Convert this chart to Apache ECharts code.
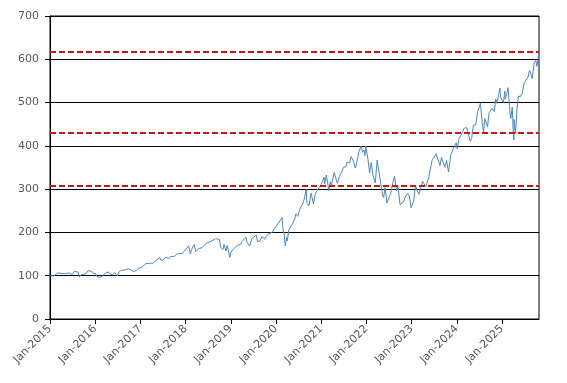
<!DOCTYPE html>
<html>
<head>
<meta charset="utf-8">
<script src="https://cdn.jsdelivr.net/npm/echarts@6/dist/echarts.min.js"></script>
<style>
  html, body { margin: 0; padding: 0; background: #fff; }
  #chart { width: 567px; height: 383px; }
</style>
</head>
<body>
<div id="chart"></div>
<script>
// ---- data ----
const dates = [
  '2015-01-02','2015-01-15','2015-02-02','2015-02-17','2015-03-02','2015-03-11','2015-03-20','2015-04-01','2015-04-15','2015-04-27',
  '2015-05-06','2015-05-20','2015-06-01','2015-06-15','2015-06-29','2015-07-20','2015-08-03','2015-08-17','2015-08-25','2015-09-01',
  '2015-09-16','2015-09-28','2015-10-15','2015-11-02','2015-11-13','2015-12-01','2015-12-14','2015-12-29',
  '2016-01-04','2016-01-15','2016-01-29','2016-02-11','2016-03-01','2016-03-15','2016-04-01','2016-04-19','2016-05-02','2016-05-19',
  '2016-06-08','2016-06-27','2016-07-15','2016-08-01','2016-08-15','2016-09-01','2016-09-09','2016-09-22','2016-10-14','2016-11-04',
  '2016-11-15','2016-12-01','2016-12-15','2016-12-30',
  '2017-01-17','2017-02-01','2017-02-15','2017-03-01','2017-03-22','2017-04-13','2017-05-01','2017-05-17','2017-06-08','2017-06-12',
  '2017-06-29','2017-07-14','2017-07-27','2017-08-10','2017-08-18','2017-09-01','2017-09-15','2017-10-02','2017-10-16','2017-10-27',
  '2017-11-15','2017-11-28','2017-12-04','2017-12-18','2017-12-29',
  '2018-01-12','2018-01-26','2018-02-08','2018-02-26','2018-03-12','2018-03-23','2018-04-02','2018-04-18','2018-05-03','2018-05-15',
  '2018-06-01','2018-06-20','2018-07-02','2018-07-25','2018-08-02','2018-08-29','2018-09-14','2018-10-01','2018-10-11','2018-10-29',
  '2018-11-07','2018-11-23','2018-12-03','2018-12-24','2018-12-31',
  '2019-01-15','2019-02-01','2019-02-15','2019-03-01','2019-03-22','2019-04-01','2019-04-15','2019-05-03','2019-05-13','2019-06-03',
  '2019-06-20','2019-07-03','2019-07-26','2019-08-05','2019-08-15','2019-08-23','2019-09-12','2019-10-02','2019-10-15','2019-11-01',
  '2019-11-15','2019-12-02','2019-12-16','2019-12-31',
  '2020-01-15','2020-01-31','2020-02-19','2020-02-28','2020-03-09','2020-03-16','2020-03-20','2020-03-26','2020-04-01','2020-04-15',
  '2020-05-01','2020-05-15','2020-06-01','2020-06-10','2020-06-26','2020-07-13','2020-07-24','2020-08-03','2020-08-17','2020-09-02',
  '2020-09-08','2020-09-23','2020-10-12','2020-10-30','2020-11-13','2020-12-01','2020-12-15','2020-12-31',
  '2021-01-15','2021-01-25','2021-01-29','2021-02-12','2021-03-04','2021-03-15','2021-03-24','2021-04-01','2021-04-16','2021-04-29',
  '2021-05-12','2021-05-28','2021-06-15','2021-06-30','2021-07-19','2021-07-29','2021-08-18','2021-08-31','2021-09-07','2021-09-20',
  '2021-10-04','2021-10-15','2021-11-01','2021-11-19','2021-12-01','2021-12-13','2021-12-20','2021-12-27',
  '2022-01-03','2022-01-14','2022-01-27','2022-02-09','2022-02-23','2022-03-14','2022-03-29','2022-04-14','2022-04-29','2022-05-11',
  '2022-05-20','2022-06-01','2022-06-16','2022-07-01','2022-07-15','2022-08-01','2022-08-16','2022-09-01','2022-09-12','2022-09-30',
  '2022-10-13','2022-10-27','2022-11-10','2022-11-30','2022-12-13','2022-12-28',
  '2023-01-05','2023-01-18','2023-02-02','2023-02-16','2023-03-01','2023-03-13','2023-03-31','2023-04-14','2023-04-25','2023-05-15',
  '2023-05-31','2023-06-15','2023-06-30','2023-07-18','2023-08-01','2023-08-18','2023-08-31','2023-09-14','2023-09-26','2023-10-11',
  '2023-10-26','2023-11-15','2023-12-01','2023-12-14','2023-12-28',
  '2024-01-05','2024-01-19','2024-01-31','2024-02-15','2024-03-01','2024-03-21','2024-04-01','2024-04-19','2024-05-01','2024-05-15',
  '2024-06-03','2024-06-18','2024-07-01','2024-07-10','2024-07-25','2024-08-05','2024-08-15','2024-08-29','2024-09-06','2024-09-19',
  '2024-10-01','2024-10-15','2024-10-31','2024-11-11','2024-11-20','2024-12-04','2024-12-16','2024-12-20','2024-12-31',
  '2025-01-13','2025-01-24','2025-01-27','2025-02-07','2025-02-19','2025-03-03','2025-03-10','2025-03-13','2025-03-25','2025-04-04',
  '2025-04-08','2025-04-09','2025-04-21','2025-05-02','2025-05-13','2025-05-30','2025-06-13','2025-06-30','2025-07-15','2025-07-31',
  '2025-08-12','2025-08-22','2025-09-02','2025-09-19','2025-10-01','2025-10-10','2025-10-24'
];
const values = [
  100,97.5,99.5,104,106,102.5,106,102.5,105,108,
  104.5,108,106.5,104.5,103,110.5,109,108,97,99,
  103,98.5,104,111,107,111,105,109,
  105,98,101,96,100,104,107.5,108.5,103.5,102,
  107.5,99.5,110,112.5,114.5,113.5,111,116,114,110,
  113,112,117,115.5,
  120.5,122.9,128.2,129.9,128.9,128.9,134.2,131.1,142.2,136.4,
  136.1,140.7,143.1,139.3,138.8,144.3,144.6,144.8,147,150.6,
  151.6,154.2,151.1,156.1,154.2,
  163.9,169.2,150.6,165.8,171.8,155.9,152,162.7,160.7,165,
  169.9,175.4,171.3,179.5,176.1,185.3,182.4,183.9,166.3,160.2,
  172,157.3,169.9,142.2,152.5,
  159.8,164.6,168.7,171.1,172.8,178.3,183.1,189.2,176.6,168.2,
  186,188.7,193.7,179,182.7,179.8,190.8,183.9,191.3,196.6,
  200.5,200.2,207.2,210.4,
  219.3,220.5,234.2,203.9,191.6,169.2,168.5,188,180.5,207.2,
  210.1,220.5,231.3,243.1,237.3,254.5,252,265.1,277.1,299.3,
  267.5,261.2,290.4,266.3,287.7,297.6,303.6,310.6,
  308.4,327.7,311.6,332.5,296.4,316.9,308.4,319.3,338.3,339.3,
  313.3,329.9,339,350.6,351.8,362.7,360.2,375.4,377.1,363.4,
  348.7,361.4,385.5,399.3,385.5,390.4,377.3,399.3,
  397.6,368.7,337.3,361.4,332.5,314.4,367.2,337.3,309.6,286.7,
  280.7,303.6,268.1,279.5,289.2,312,329.3,296.4,308.4,264.4,
  265.1,269.9,281.9,289.9,284.3,257.3,
  260.2,272.3,308.4,296.4,288,286.7,317.6,315.2,306,321.7,
  343.4,365.9,365.8,381.7,379.5,354.2,373.5,372.3,350.6,366.3,
  339.8,380.7,380.7,400,407.2,
  392.8,416.9,413,430.1,441,441.9,439.8,410.5,419.3,448.2,
  448.2,479.5,479.5,498.2,453.7,430,462.7,466.3,443.9,477.1,
  477.1,486.7,479.3,508.4,498.1,518.1,533.3,513,506.3,
  500,526.5,508.4,518,534.3,490.4,468.2,463.3,488.9,419.3,
  414,461.3,428.9,484.3,514.5,514.2,521.2,546.5,551.8,559.5,
  574.5,566.3,555.4,592.8,597.6,583.6,611
];
const referenceLevels = [618, 430, 308];
const yearTicks = [2015,2016,2017,2018,2019,2020,2021,2022,2023,2024,2025];
const yTicks = [0,100,200,300,400,500,600,700];

function toYear(s) {
  const p = s.split('-').map(Number);
  const a = Date.UTC(p[0], 0, 1), b = Date.UTC(p[0] + 1, 0, 1);
  return p[0] + (Date.UTC(p[0], p[1] - 1, p[2]) - a) / (b - a);
}
const seriesData = dates.map((d, i) => [toYear(d), values[i]]);
const xMax = toYear('2025-10-27');

const labelFont = { color: '#595959', fontFamily: 'DejaVu Sans', fontSize: 11 };

const chart = echarts.init(document.getElementById('chart'), null, { renderer: 'canvas' });
chart.setOption({
  animation: false,
  backgroundColor: '#fff',
  grid: { left: 50, right: 28, top: 16, bottom: 64, show: true, borderColor: '#000', borderWidth: 1, backgroundColor: 'transparent' },
  xAxis: {
    type: 'value',
    min: 2015, max: xMax, interval: 1,
    axisLine: { show: true, lineStyle: { color: '#000', width: 1 } },
    axisTick: { show: true, length: 5, lineStyle: { color: '#000' }, customValues: yearTicks },
    splitLine: { show: false },
    axisLabel: Object.assign({
      rotate: 45, margin: 8,
      customValues: yearTicks,
      formatter: v => 'Jan-' + Math.round(v)
    }, labelFont)
  },
  yAxis: {
    type: 'value',
    min: 0, max: 700, interval: 100,
    axisLine: { show: true, lineStyle: { color: '#000', width: 1 } },
    axisTick: { show: true, length: 5, lineStyle: { color: '#000' } },
    splitLine: { show: true, lineStyle: { color: '#000', width: 1 } },
    axisLabel: Object.assign({ margin: 11 }, labelFont)
  },
  series: [{
    type: 'line',
    data: seriesData,
    showSymbol: false,
    symbol: 'none',
    lineStyle: { color: '#4f86c0', width: 1 },
    markLine: {
      silent: true,
      symbol: ['none', 'none'],
      label: { show: false },
      lineStyle: { color: '#cc1414', width: 2, type: [6, 3] },
      data: referenceLevels.map(v => ({ yAxis: v }))
    }
  }]
});
</script>
</body>
</html>
